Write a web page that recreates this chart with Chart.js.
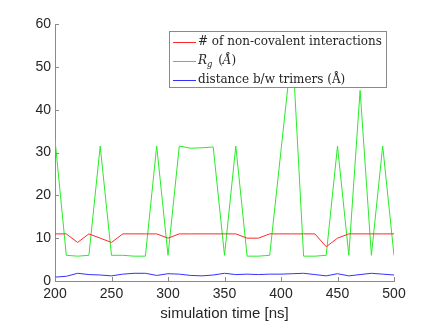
<!DOCTYPE html>
<html>
<head>
<meta charset="utf-8">
<script src="https://cdn.jsdelivr.net/npm/chart.js@4"></script>
<style>
  body { margin: 0; background: #fff; }
</style>
</head>
<body>
<canvas id="mycanvas" width="436" height="327"></canvas>
<script>
// simulation time (ns)
var timeNs = [200, 210, 220, 230, 240, 250, 260, 270, 280, 290, 300,
              310, 320, 330, 340, 350, 360, 370, 380, 390, 400,
              410, 420, 430, 440, 450, 460, 470, 480, 490, 500];

var nonCovalent = [11, 11, 9, 11, 10, 9, 11, 11, 11, 11, 10,
                   11, 11, 11, 11, 11, 11, 10, 10, 11, 11,
                   11, 11, 11, 8, 10, 11, 11, 11, 11, 11];

var rg = [33, 6, 5.8, 6, 31.5, 6, 6, 5.8, 5.8, 31.5, 6,
          31.5, 31, 31.1, 31.3, 6, 31.5, 5.8, 5.8, 6, 30.5,
          55, 5.8, 5.8, 6, 31.5, 6, 44.5, 6, 31.5, 6];

var distance = [0.9, 1.1, 1.8, 1.5, 1.4, 1.2, 1.6, 1.8, 1.8, 1.3, 1.7,
                1.6, 1.3, 1.2, 1.4, 1.8, 1.5, 1.6, 1.5, 1.6, 1.6,
                1.7, 1.8, 1.5, 1.2, 1.7, 1.2, 1.5, 1.8, 1.6, 1.4];

var xTicks = [200, 250, 300, 350, 400, 450, 500];
var yTicks = [0, 10, 20, 30, 40, 50, 60];

var axisColor = "#8a8a8a";
var textColor = "#262626";

function pts(vals) {
	var out = [];
	for (var i in vals) {
		out.push({x: timeNs[i], y: vals[i]});
	}
	return out;
}

// inward ticks like matlab
var inwardTicks = {
	id: "inwardTicks",
	afterDatasetsDraw: function(chart) {
		var ctx = chart.ctx;
		var xs = chart.scales.x, ys = chart.scales.y;
		ctx.save();
		ctx.strokeStyle = axisColor;
		ctx.lineWidth = 1;
		ctx.beginPath();
		xTicks.forEach(function(v) {
			var px = Math.round(xs.getPixelForValue(v)) + 0.5;
			ctx.moveTo(px, ys.bottom);
			ctx.lineTo(px, ys.bottom - 4);
		});
		yTicks.forEach(function(v) {
			var py = Math.round(ys.getPixelForValue(v)) + 0.5;
			ctx.moveTo(xs.left, py);
			ctx.lineTo(xs.left + 4, py);
		});
		ctx.stroke();
		ctx.restore();
	}
};

// legend box drawn inside the axes
var boxLegend = {
	id: "boxLegend",
	afterDraw: function(chart) {
		var ctx = chart.ctx;
		var left = 169.5, top = 31.5, right = 386.5, bottom = 87.5;
		ctx.save();
		ctx.fillStyle = "#fff";
		ctx.fillRect(left, top, right - left, bottom - top);
		ctx.strokeStyle = axisColor;
		ctx.lineWidth = 1;
		ctx.strokeRect(left, top, right - left, bottom - top);

		var rows = [42, 61, 80];
		var fam = "'DejaVu Serif', serif";
		var size = 13;
		ctx.font = size + "px " + fam;
		var w = ctx.measureText("# of non-covalent interactions").width;
		size = size * 184 / w;
		var ds = chart.data.datasets;
		ctx.textBaseline = "middle";
		for (var i = 0; i < ds.length; i++) {
			ctx.strokeStyle = ds[i].borderColor;
			ctx.beginPath();
			ctx.moveTo(173, rows[i] + 0.5);
			ctx.lineTo(196, rows[i] + 0.5);
			ctx.stroke();
		}
		ctx.fillStyle = textColor;
		var tx = 198;
		ctx.font = size + "px " + fam;
		ctx.fillText(ds[0].label, tx, rows[0]);
		// R_g (Å)
		var x = tx;
		ctx.font = "italic " + size + "px " + fam;
		ctx.fillText("R", x, rows[1]);
		x += ctx.measureText("R").width;
		ctx.font = "italic " + (size * 0.7) + "px " + fam;
		ctx.fillText("g", x, rows[1] + 4);
		x += ctx.measureText("g").width + 2;
		ctx.font = size + "px " + fam;
		ctx.fillText(" (", x, rows[1]);
		x += ctx.measureText(" (").width;
		ctx.font = "italic " + size + "px " + fam;
		ctx.fillText("Å", x, rows[1]);
		x += ctx.measureText("Å").width;
		ctx.font = size + "px " + fam;
		ctx.fillText(")", x, rows[1]);
		ctx.fillText(ds[2].label, tx, rows[2]);
		ctx.restore();
	}
};

var chartdata = {
	datasets: [
		{
			label: "# of non-covalent interactions",
			borderColor: "rgb(255, 40, 40)",
			borderWidth: 1,
			pointRadius: 0,
			fill: false,
			tension: 0,
			data: pts(nonCovalent)
		},
		{
			label: "R_g (Å)",
			borderColor: "rgb(40, 235, 40)",
			borderWidth: 1,
			pointRadius: 0,
			fill: false,
			tension: 0,
			data: pts(rg)
		},
		{
			label: "distance b/w trimers (Å)",
			borderColor: "rgb(50, 50, 255)",
			borderWidth: 1,
			pointRadius: 0,
			fill: false,
			tension: 0,
			data: pts(distance)
		}
	]
};

var ctx = document.getElementById("mycanvas");

var LineGraph = new Chart(ctx, {
	type: "line",
	data: chartdata,
	options: {
		responsive: false,
		animation: false,
		devicePixelRatio: 1,
		layout: { padding: { left: 0, right: 42, top: 24, bottom: 0 } },
		plugins: {
			legend: { display: false },
			tooltip: { enabled: false }
		},
		scales: {
			x: {
				type: "linear",
				min: 200,
				max: 500,
				afterBuildTicks: function(scale) {
					scale.ticks = xTicks.map(function(v) { return {value: v}; });
				},
				afterFit: function(scale) { scale.height = 46; },
				grid: { drawOnChartArea: false, drawTicks: false },
				border: { color: axisColor, width: 1 },
				ticks: {
					color: textColor,
					padding: 5,
					maxRotation: 0,
					font: { family: "'Liberation Sans', Arial, sans-serif", size: 14 }
				},
				title: {
					display: true,
					text: "simulation time [ns]",
					color: textColor,
					padding: { top: 0, bottom: 4 },
					font: { family: "'Liberation Sans', Arial, sans-serif", size: 15 }
				}
			},
			y: {
				min: 0,
				max: 60,
				afterBuildTicks: function(scale) {
					scale.ticks = yTicks.map(function(v) { return {value: v}; });
				},
				afterFit: function(scale) { scale.width = 55; },
				grid: { drawOnChartArea: false, drawTicks: false },
				border: { color: axisColor, width: 1 },
				ticks: {
					color: textColor,
					padding: 4,
					font: { family: "'Liberation Sans', Arial, sans-serif", size: 14 }
				}
			}
		}
	},
	plugins: [inwardTicks, boxLegend]
});
</script>
</body>
</html>
